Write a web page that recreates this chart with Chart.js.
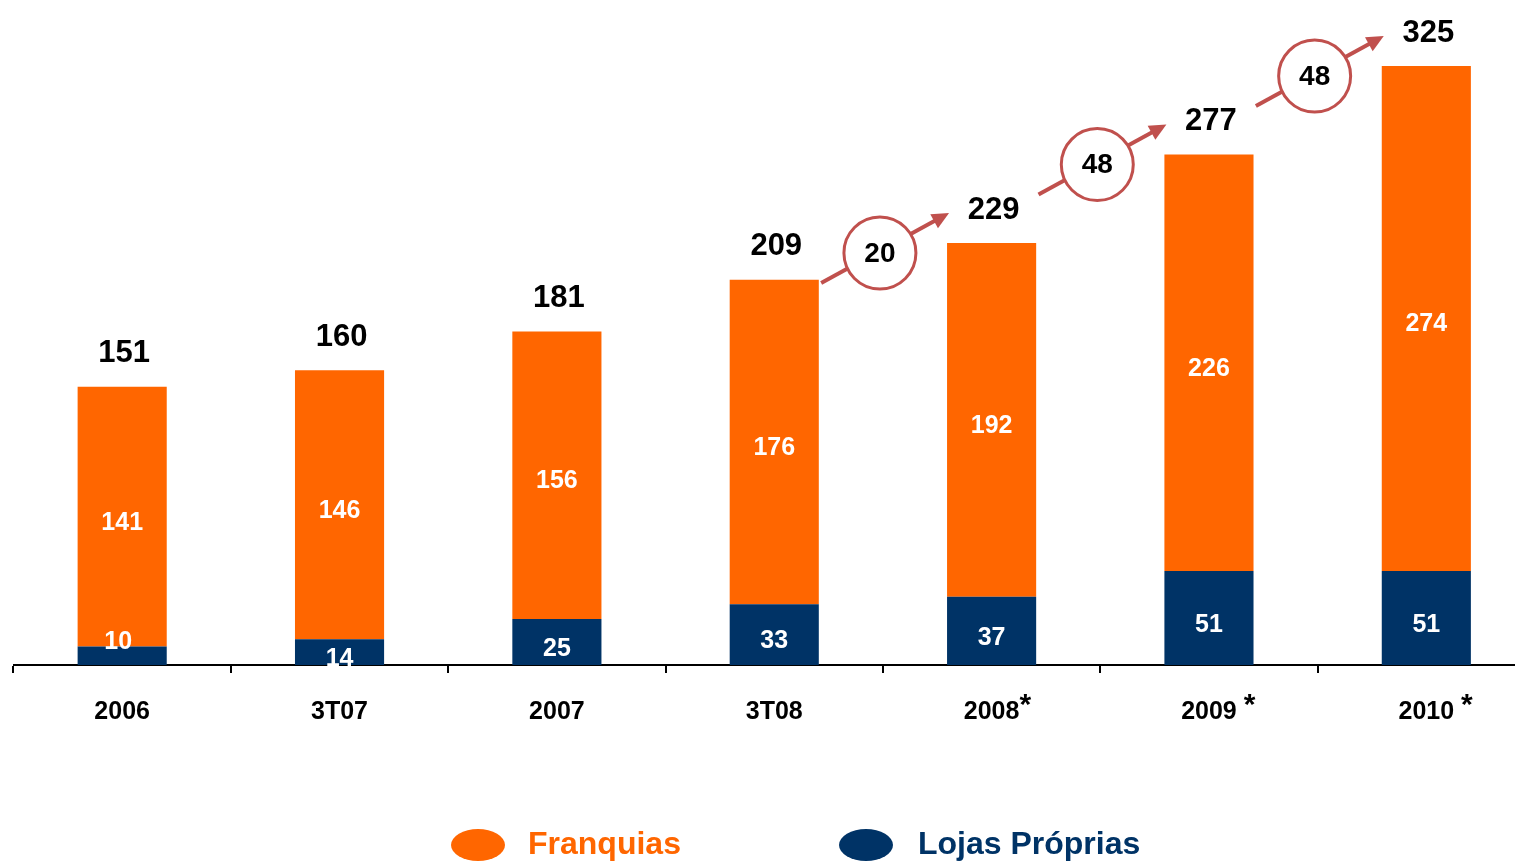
<!DOCTYPE html>
<html>
<head>
<meta charset="utf-8">
<script src="https://cdn.jsdelivr.net/npm/chart.js@4/dist/chart.umd.min.js"></script>
<style>
  html, body { margin: 0; padding: 0; background: #ffffff; overflow: hidden; }
  #wrap { width: 1515px; height: 862px; overflow: hidden; position: relative; }
  canvas { display: block; }
</style>
</head>
<body>
<div id="wrap"><canvas id="c" width="1535" height="862"></canvas></div>
<script>
// ---- data ----
const categories = ['2006', '3T07', '2007', '3T08', '2008', '2009', '2010'];
const footnoteMarks = ['', '', '', '', '*', ' *', ' *'];
const lojasProprias = [10, 14, 25, 33, 37, 51, 51];
const franquias = [141, 146, 156, 176, 192, 226, 274];
const totals = [151, 160, 181, 209, 229, 277, 325];
const growthValues = [20, 48, 48];
const growthFromIndex = [3, 4, 5];
const seriesNames = ['Lojas Próprias', 'Franquias'];

const ORANGE = '#FF6600';
const NAVY = '#003366';
const ARROW = '#C0504D';
const FONT = "'Liberation Sans', Arial, sans-serif";

const overlayPlugin = {
  id: 'overlay',
  afterDatasetsDraw(chart) {
    const ctx = chart.ctx;
    const y = chart.scales.y;
    const x = chart.scales.x;
    const metaL = chart.getDatasetMeta(0);
    const metaF = chart.getDatasetMeta(1);
    ctx.save();
    ctx.textAlign = 'center';
    ctx.textBaseline = 'middle';
    ctx.fillStyle = '#ffffff';
    ctx.font = 'bold 25px ' + FONT;
    // inner labels
    categories.forEach((c, i) => {
      const bl = metaL.data[i];
      const bf = metaF.data[i];
      let top = bl.y, bot = bl.base;
      let cy = (top + bot) / 2 + 7;
      let cx = bl.x;
      if (bot - top < 20) { cy = (top + bot) / 2 - 14; cx -= 4; }
      ctx.fillText(String(lojasProprias[i]), cx, cy);
      top = bf.y; bot = bf.base;
      ctx.fillText(String(franquias[i]), bf.x, (top + bot) / 2 + 6);
    });
    // totals
    ctx.fillStyle = '#000000';
    ctx.font = 'bold 31px ' + FONT;
    categories.forEach((c, i) => {
      const px = x.getPixelForValue(i);
      const py = y.getPixelForValue(totals[i]);
      ctx.fillText(String(totals[i]), px + 2, py - 33);
    });
    // growth arrows
    const half = metaF.data[0].width / 2;
    growthFromIndex.forEach((fi, k) => {
      const ni = fi + 1;
      const pc = x.getPixelForValue(fi);
      const nc = x.getPixelForValue(ni);
      const ex = nc - half + 2;
      const ey = y.getPixelForValue(totals[ni]) - 30;
      const cx = (pc + nc) / 2 - 3;
      const cy = ey + 40;
      const sx = cx - (ex - cx) * 0.85;
      const sy = cy + (cy - ey) * 0.75;
      const ang = Math.atan2(ey - sy, ex - sx);
      const headLen = 17;
      ctx.strokeStyle = ARROW;
      ctx.fillStyle = ARROW;
      ctx.lineWidth = 4;
      ctx.beginPath();
      ctx.moveTo(sx, sy);
      ctx.lineTo(ex - Math.cos(ang) * headLen * 0.8, ey - Math.sin(ang) * headLen * 0.8);
      ctx.stroke();
      ctx.beginPath();
      ctx.moveTo(ex, ey);
      ctx.lineTo(ex - headLen * Math.cos(ang) + 8 * Math.sin(ang), ey - headLen * Math.sin(ang) - 8 * Math.cos(ang));
      ctx.lineTo(ex - headLen * Math.cos(ang) - 8 * Math.sin(ang), ey - headLen * Math.sin(ang) + 8 * Math.cos(ang));
      ctx.closePath();
      ctx.fill();
      ctx.beginPath();
      ctx.arc(cx, cy, 36, 0, Math.PI * 2);
      ctx.fillStyle = '#ffffff';
      ctx.fill();
      ctx.lineWidth = 3;
      ctx.stroke();
      ctx.fillStyle = '#000000';
      ctx.font = 'bold 28px ' + FONT;
      ctx.fillText(String(growthValues[k]), cx, cy + 1);
    });
    ctx.restore();
  },
  afterDraw(chart) {
    const ctx = chart.ctx;
    const x = chart.scales.x;
    const base = chart.chartArea.bottom;
    ctx.save();
    // footnote asterisks on tick labels
    categories.forEach((c, i) => {
      const mark = footnoteMarks[i];
      if (!mark) return;
      ctx.font = 'bold 25px ' + FONT;
      const w = ctx.measureText(c).width;
      const sp = mark.startsWith(' ') ? ctx.measureText(' ').width : 0;
      const px = x.getPixelForValue(i) + w / 2 + sp;
      ctx.font = 'bold 30px ' + FONT;
      ctx.fillStyle = '#000000';
      ctx.textAlign = 'left';
      ctx.textBaseline = 'alphabetic';
      ctx.fillText('*', px, base + 49);
    });
    // legend
    const items = [
      { name: chart.data.datasets[1].label, color: ORANGE, ex: 478, tx: 528 },
      { name: chart.data.datasets[0].label, color: NAVY, ex: 866, tx: 918 }
    ];
    items.forEach(it => {
      ctx.fillStyle = it.color;
      ctx.beginPath();
      ctx.ellipse(it.ex, 845, 27, 16, 0, 0, Math.PI * 2);
      ctx.fill();
      ctx.font = 'bold 32px ' + FONT;
      ctx.textAlign = 'left';
      ctx.textBaseline = 'middle';
      ctx.fillText(it.name, it.tx, 845);
    });
    ctx.restore();
  }
};

new Chart(document.getElementById('c'), {
  type: 'bar',
  data: {
    labels: categories,
    datasets: [
      { label: seriesNames[0], data: lojasProprias, backgroundColor: NAVY, barPercentage: 0.41, categoryPercentage: 1 },
      { label: seriesNames[1], data: franquias, backgroundColor: ORANGE, barPercentage: 0.41, categoryPercentage: 1 }
    ]
  },
  options: {
    responsive: false,
    animation: false,
    layout: { padding: { top: 20, left: 13.5, right: 0, bottom: 0 } },
    plugins: { legend: { display: false }, tooltip: { enabled: false } },
    scales: {
      x: {
        stacked: true,
        offset: true,
        afterFit: s => { s.height = 197; },
        grid: { offset: true, drawOnChartArea: false, drawTicks: true, tickLength: 8, color: '#000000', lineWidth: 2 },
        border: { display: true, color: '#000000', width: 2 },
        ticks: { color: '#000000', font: { family: FONT, size: 25, weight: 'bold' }, padding: 24, maxRotation: 0, autoSkip: false }
      },
      y: {
        stacked: true,
        display: false,
        min: 0,
        max: 350
      }
    }
  },
  plugins: [overlayPlugin]
});
</script>
</body>
</html>
